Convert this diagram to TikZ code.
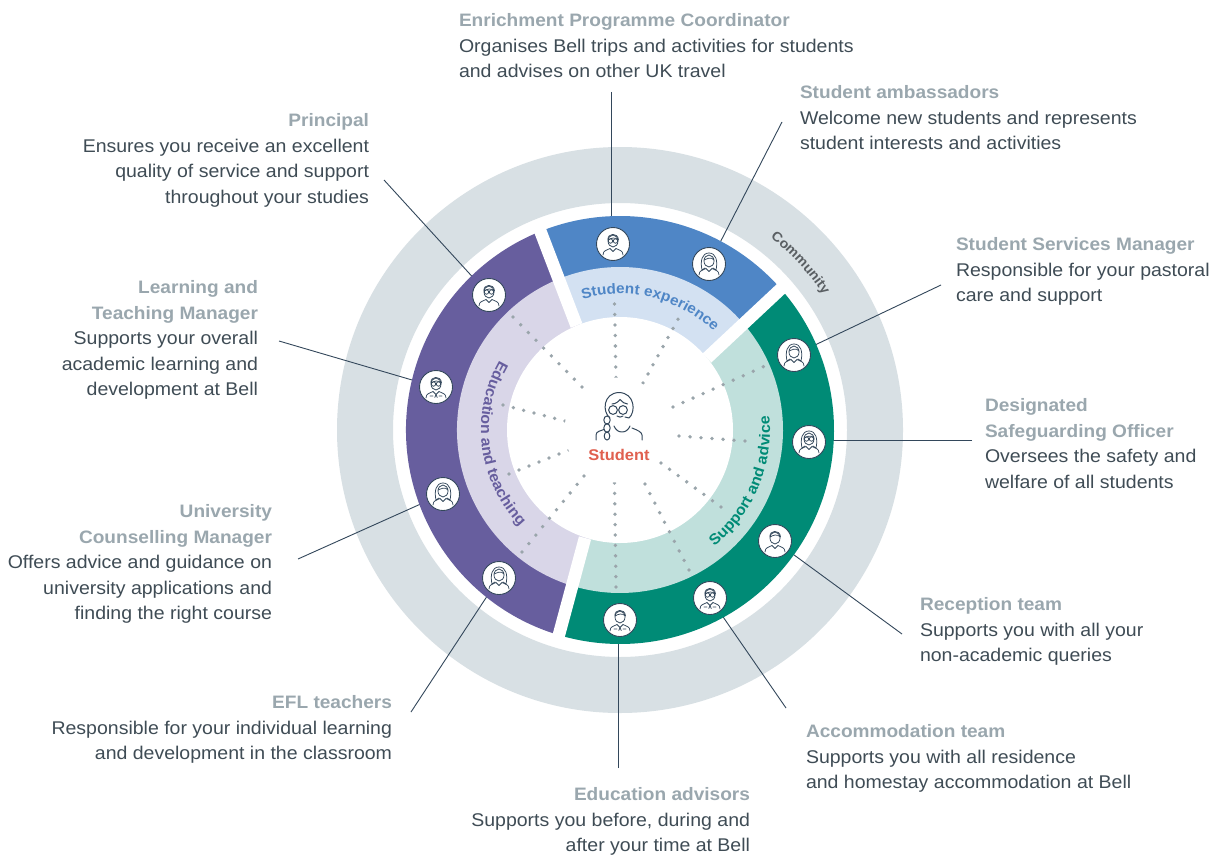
\documentclass[tikz,border=0pt]{standalone}
\usepackage{fontspec}
\setmainfont{Liberation Sans}[FakeStretch=1.06]
\usetikzlibrary{calc,decorations.text}
\definecolor{ringgray}{HTML}{D8E0E4}
\definecolor{purpleD}{HTML}{675E9E}
\definecolor{purpleL}{HTML}{D9D6E8}
\definecolor{blueD}{HTML}{4F86C6}
\definecolor{blueL}{HTML}{D3E1F2}
\definecolor{greenD}{HTML}{008B76}
\definecolor{greenL}{HTML}{C0E0DC}
\definecolor{inkline}{HTML}{33475B}
\definecolor{headc}{HTML}{9AA7AE}
\definecolor{bodyc}{HTML}{3F4C55}
\definecolor{dotc}{HTML}{9AA5AB}
\definecolor{redc}{HTML}{E0604F}
\definecolor{commc}{HTML}{5A5F63}
\tikzset{
  info/.style={inner sep=0pt,outer sep=0pt,text=bodyc,font=\fontsize{18.4}{25.5}\selectfont},
  infoL/.style={info,anchor=north west,align=left},
  infoR/.style={info,anchor=north east,align=right},
  leader/.style={draw=inkline,line width=0.9pt},
  personc/.style={circle,draw=inkline,fill=white,line width=0.9pt,minimum size=33pt,inner sep=0pt},
  iconl/.style={draw=inkline,line width=0.75pt,line cap=round,line join=round},
  gap/.style={draw=white,line width=12.5pt},
}
\newcommand{\hd}[1]{\textcolor{headc}{\fontsize{18}{25.5}\selectfont\textbf{#1}}}
\newcommand{\sector}[4]{\fill[#1] (C) -- ($(C)+(#2:#4pt)$) arc[start angle=#2,end angle=#3,radius=#4pt] -- cycle;}
\newcommand{\dotline}[5]{\foreach \i in {1,...,#5}{\fill[dotc] ($(#1,#2)!{(\i-1)/(#5-1)}!(#3,#4)$) circle (1.9);}}
\newcommand{\ibody}{\draw[iconl] (-10,11) .. controls (-10,6) and (-6,6.5) .. (-3,4.5) (10,11) .. controls (10,6) and (6,6.5) .. (3,4.5) (-3,4.5) -- (0,7.5) -- (3,4.5);}
\newcommand{\ihead}{\draw[iconl] (0,-3) ellipse (5 and 6);}
\newcommand{\ishort}{\draw[iconl] (-5,-4) .. controls (-6,-11) and (5,-12) .. (5.5,-4) (-5,-4) .. controls (-2,-6) and (2,-7) .. (5,-4.5);}
\newcommand{\ilong}{\draw[iconl] (-7,6) .. controls (-9,-3) and (-7,-11) .. (0,-11) .. controls (7,-11) and (9,-3) .. (7,6) (-7,6) -- (-4,4) (7,6) -- (4,4) (-5,-4) .. controls (-2,-5) and (2,-8) .. (5,-4);}
\newcommand{\iglasses}{\draw[iconl] (-2.5,-3) circle (2.2) (2.5,-3) circle (2.2);}
\newcommand{\itie}{\draw[iconl] (0,7.5) -- (-1.2,10.5) (0,7.5) -- (1.2,10.5) (-6,9) -- (-3,9) (6,9) -- (3,9);}
\newcommand{\personicon}[4]{\node[personc] (#1) at (#2,#3) {};
  \begin{scope}[shift={(#1.center)}]#4\end{scope}}
\begin{document}
\begin{tikzpicture}[x=1pt,y=-1pt]
\useasboundingbox (0,0) rectangle (1214,856);
\fill[white] (0,0) rectangle (1214,856);
\coordinate (C) at (620,430);
\fill[ringgray,even odd rule] (C) circle (283) (C) circle (227);
\coordinate (eEnrich) at (611.5,92);
\coordinate (eAmb) at (782,122);
\coordinate (eServ) at (941,285);
\coordinate (eDSO) at (972,440);
\coordinate (eRec) at (902,634);
\coordinate (eAcc) at (786,708);
\coordinate (eAdv) at (618,768);
\coordinate (eEFL) at (411,712);
\coordinate (eUni) at (298,559);
\coordinate (eLT) at (279,341);
\coordinate (ePrin) at (384,180);
\coordinate (pEnrich) at (611.5,244);
\coordinate (pAmb) at (709,264);
\coordinate (pServ) at (794,355);
\coordinate (pDSO) at (809,440);
\coordinate (pRec) at (775,541);
\coordinate (pAcc) at (710,598);
\coordinate (pAdv) at (618,620);
\coordinate (pEFL) at (499,578);
\coordinate (pUni) at (443,494);
\coordinate (pLT) at (436,387);
\coordinate (pPrin) at (489,295);
\foreach \n in {Enrich,Amb,Serv,DSO,Rec,Acc,Adv,EFL,Uni,LT,Prin}{\draw[leader] (e\n) -- (p\n);}
\sector{blueD}{111.5}{40.5}{214}
\sector{greenD}{40.5}{-105.5}{214}
\sector{purpleD}{254.5}{111.5}{214}
\sector{blueL}{111.5}{40.5}{163}
\sector{greenL}{40.5}{-105.5}{163}
\sector{purpleL}{254.5}{111.5}{163}
\draw[gap] (576.5,325.5) -- (538,225);
\draw[gap] (707,358) -- (785,285);
\draw[gap] (585,538) -- (557,642);
\fill[white] (C) circle (113);
\dotline{614.5}{304}{616}{377.5}{8}
\dotline{678}{319.3}{643}{383}{8}
\dotline{763.3}{366.7}{673}{407}{10}
\dotline{745}{441}{679}{436}{7}
\dotline{721}{507}{661}{463}{8}
\dotline{689}{570}{645}{484}{10}
\dotline{616}{587}{614.5}{483}{11}
\dotline{522}{552}{584}{476}{10}
\dotline{509}{474}{569}{450}{7}
\dotline{503}{405}{565}{421}{7}
\dotline{513}{317}{582}{387}{10}
\fill[white] (617,430) circle (52.5);
\path[postaction={decorate,decoration={text along path,text={|\fontsize{14.5}{16}\selectfont\bfseries\color{blueD}|Student experience}}}]
  ($(C)+(106:136pt)$) arc[start angle=106,end angle=35,radius=136pt];
\path[postaction={decorate,decoration={text along path,text={|\fontsize{15}{16}\selectfont\bfseries\color{purpleD}|Education and teaching}}}]
  ($(C)+(150:139pt)$) arc[start angle=150,end angle=240,radius=139pt];
\path[postaction={decorate,decoration={text along path,text={|\fontsize{15}{16}\selectfont\bfseries\color{greenD}|Support and advice}}}]
  ($(C)+(-51:150pt)$) arc[start angle=-51,end angle=15,radius=150pt];
\path[postaction={decorate,decoration={text along path,text={|\fontsize{13.5}{16}\selectfont\bfseries\color{commc}|Community}}}]
  ($(C)+(52:244pt)$) arc[start angle=52,end angle=25,radius=244pt];
\personicon{Enrich}{613}{244}{\ibody\ihead\ishort\iglasses}
\personicon{Amb}{709}{264}{\ibody\ihead\ilong}
\personicon{Serv}{794}{355}{\ibody\ihead\ilong}
\personicon{DSO}{809}{442}{\ibody\ihead\ilong\iglasses}
\personicon{Rec}{775}{541}{\ibody\ihead\ishort}
\personicon{Acc}{710}{598}{\ibody\ihead\ishort\iglasses\itie}
\personicon{Adv}{620}{620}{\ibody\ihead\ishort\itie}
\personicon{EFL}{499}{578}{\ibody\ihead\ilong}
\personicon{Uni}{443}{494}{\ibody\ihead\ilong}
\personicon{LT}{436}{387}{\ibody\ihead\iglasses\ishort\itie}
\personicon{Prin}{489}{295}{\ibody\ihead\ishort\iglasses}
\node[inner sep=0pt] (student) at (619,455) {\fontsize{15.5}{16}\selectfont\bfseries\textcolor{redc}{Student}};
\begin{scope}[shift={(619,407)}]
 \draw[inkline,line width=1pt,line cap=round,line join=round]
  (-9,11) .. controls (-17,5) and (-16,-14) .. (0,-14.5) .. controls (16,-14) and (17,5) .. (10,11) -- (6,10)
  (-7,-3) .. controls (-3,-3) and (0,-6) .. (1,-7.5) .. controls (3,-5) and (6,-3) .. (8.5,-3)
  (-2,9) .. controls (0,10.5) and (2,10.5) .. (4,9)
  (-23,33) -- (-23,28) .. controls (-23,24) and (-18,24) .. (-14,22)
  (23,33) -- (23,28) .. controls (23,25) and (18,23) .. (13,21)
  (-5,19) .. controls (-2,27) and (8,27) .. (11,19);
 \draw[inkline,line width=1pt,fill=white] (-6,3) circle (4.4) (4,3) circle (4.4);
 \draw[inkline,line width=1pt,fill=white] (-12,13) ellipse (3.2 and 4) (-12,21) ellipse (3.2 and 4.2) (-12,29) ellipse (2.8 and 4);
\end{scope}
\node[infoL] (tEnrich) at (459,13.5) {\hd{Enrichment Programme Coordinator}\\Organises Bell trips and activities for students\\and advises on other UK travel};
\node[infoL] (tAmb) at (800,85.5) {\hd{Student ambassadors}\\Welcome new students and represents\\student interests and activities};
\node[infoL] (tServ) at (956,237.5) {\hd{Student Services Manager}\\Responsible for your pastoral\\care and support};
\node[infoL] (tDSO) at (985,398.5) {\hd{Designated}\\\hd{Safeguarding Officer}\\Oversees the safety and\\welfare of all students};
\node[infoL] (tRec) at (920,597.5) {\hd{Reception team}\\Supports you with all your\\non-academic queries};
\node[infoL] (tAcc) at (806,724.5) {\hd{Accommodation team}\\Supports you with all residence\\and homestay accommodation at Bell};
\node[infoR] (tAdv) at (750,787.5) {\hd{Education advisors}\\Supports you before, during and\\after your time at Bell};
\node[infoR] (tEFL) at (392,695.5) {\hd{EFL teachers}\\Responsible for your individual learning\\and development in the classroom};
\node[infoR] (tUni) at (272,504.5) {\hd{University}\\\hd{Counselling Manager}\\Offers advice and guidance on\\university applications and\\finding the right course};
\node[infoR] (tLT) at (258,280.5) {\hd{Learning and}\\\hd{Teaching Manager}\\Supports your overall\\academic learning and\\development at Bell};
\node[infoR] (tPrin) at (369,113.5) {\hd{Principal}\\Ensures you receive an excellent\\quality of service and support\\throughout your studies};
\end{tikzpicture}
\end{document}
